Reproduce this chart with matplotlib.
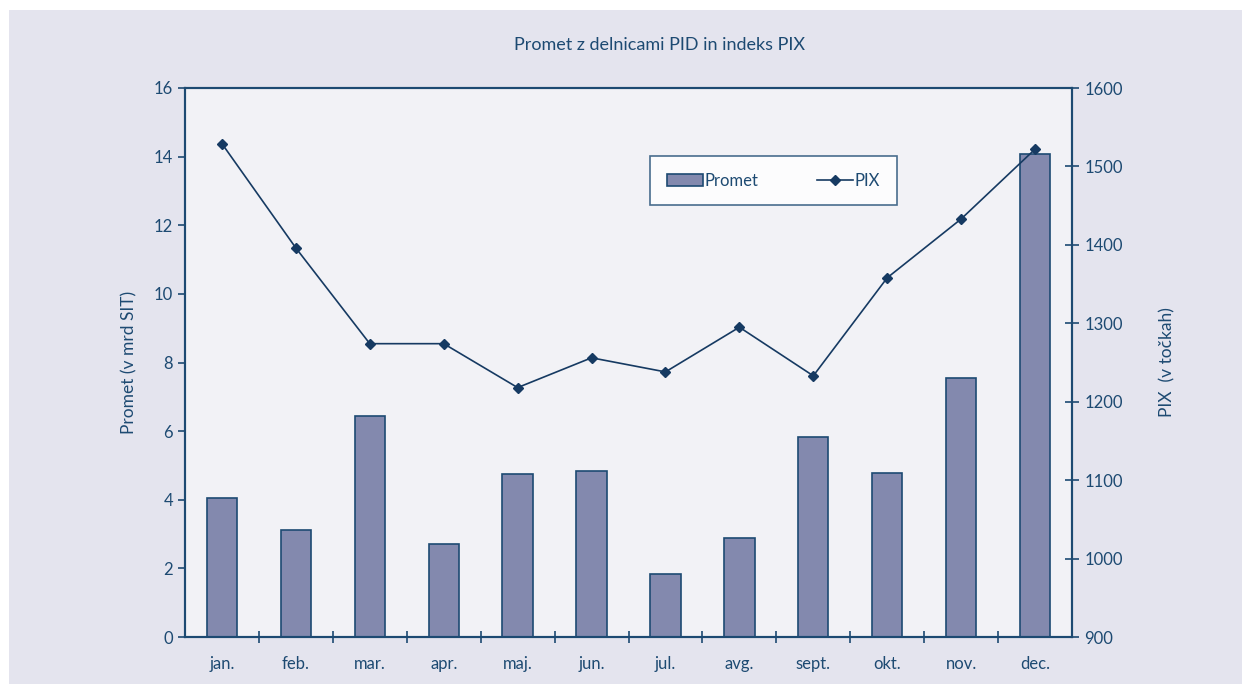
import numpy as np
import matplotlib.pyplot as plt
from matplotlib.patches import Rectangle

months = ['jan.', 'feb.', 'mar.', 'apr.', 'maj.', 'jun.', 'jul.', 'avg.',
          'sept.', 'okt.', 'nov.', 'dec.']
promet = [4.05, 3.12, 6.44, 2.71, 4.75, 4.84, 1.84, 2.89, 5.83, 4.78, 7.55, 14.08]
pix = [1529, 1396, 1274, 1274, 1218, 1256, 1238, 1295, 1233, 1358, 1433, 1522]

navy = '#1d4a72'
bar_fill = '#8389ae'
line_col = '#163a62'

plt.rcParams['font.family'] = ['Lato', 'DejaVu Sans']

fig = plt.figure(figsize=(12.42, 6.84), dpi=100, facecolor='white')
# grey panel behind the chart
fig.patches.append(Rectangle((9 / 1242, 0), 1 - 9 / 1242, 1 - 10 / 684,
                             transform=fig.transFigure, facecolor='#e4e4ee',
                             edgecolor='none', zorder=-10))

ax = fig.add_axes([185 / 1242, 1 - 637 / 684, (1072 - 185) / 1242, (637 - 88) / 684])
ax.set_facecolor('#f2f2f6')
x = np.arange(len(months))

ax.bar(x, promet, width=0.41, color=bar_fill, edgecolor=navy, linewidth=1.2, zorder=2)
ax.set_xlim(-0.5, len(months) - 0.5)
ax.set_ylim(0, 16)
ax.set_yticks(np.arange(0, 17, 2))
ax.set_xticks(x)
ax.set_xticklabels(months)
ax.tick_params(axis='x', length=0, pad=14, colors=navy, labelsize=12)
ax.set_xticks(np.arange(0.5, len(months) - 0.5, 1), minor=True)
ax.tick_params(axis='x', which='minor', direction='inout', length=9, width=1.2, color=navy)
ax.tick_params(axis='y', direction='out', length=5, width=1.2, colors=navy, labelsize=12)
ax.set_ylabel('Promet (v mrd SIT)', color=navy, fontsize=12.5, labelpad=12)
for s in ax.spines.values():
    s.set_color(navy)
    s.set_linewidth(1.5)

ax2 = ax.twinx()
ax2.plot(x, pix, color=line_col, linewidth=1.2, marker='D', markersize=5, zorder=3)
ax2.set_ylim(900, 1600)
ax2.set_yticks(np.arange(900, 1601, 100))
ax2.tick_params(axis='y', direction='inout', length=10, width=1.2, colors=navy,
                labelsize=12, pad=4)
ax2.set_ylabel('PIX  (v točkah)', color=navy, fontsize=12.5, labelpad=26)
for s in ax2.spines.values():
    s.set_color(navy)
    s.set_linewidth(1.5)

# legend
h1 = plt.Rectangle((0, 0), 1, 1, facecolor=bar_fill, edgecolor=navy, linewidth=1.2)
h2, = ax2.plot([], [], color=line_col, linewidth=1.2, marker='D', markersize=5)
leg = ax2.legend([h1, h2], ['Promet', 'PIX'], ncol=2, loc='center',
                 bbox_to_anchor=((650 - 185) / 887, 1 - (206 - 88) / 549,
                                 (897 - 650) / 887, (206 - 155) / 549),
                 mode='expand', borderaxespad=0, fancybox=False, frameon=True,
                 fontsize=12, handlelength=2.2, handletextpad=0.1,
                 columnspacing=3, borderpad=1.0, labelcolor=navy)
leg.get_frame().set_edgecolor(navy)
leg.get_frame().set_linewidth(1.2)
leg.get_frame().set_facecolor('white')

fig.text(660 / 1242, 1 - 45 / 684, 'Promet z delnicami PID in indeks PIX',
         ha='center', va='center', color=navy, fontsize=13)

fig.savefig('out.png', dpi=100, facecolor=fig.get_facecolor())
